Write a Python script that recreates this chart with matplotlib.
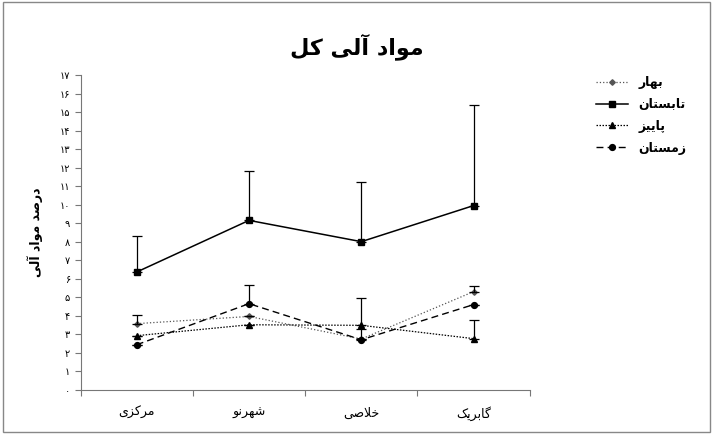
import matplotlib
matplotlib.use("Agg")
import matplotlib.pyplot as plt

# Persian letters: (isolated, final, initial, medial); two-form letters join right only
FORMS = {
    "ا": (0xFE8D, 0xFE8E), "آ": (0xFE81, 0xFE82), "د": (0xFEA9, 0xFEAA),
    "ر": (0xFEAD, 0xFEAE), "ز": (0xFEAF, 0xFEB0), "و": (0xFEED, 0xFEEE),
    "ب": (0xFE8F, 0xFE90, 0xFE91, 0xFE92), "ت": (0xFE95, 0xFE96, 0xFE97, 0xFE98),
    "خ": (0xFEA5, 0xFEA6, 0xFEA7, 0xFEA8), "س": (0xFEB1, 0xFEB2, 0xFEB3, 0xFEB4),
    "ش": (0xFEB5, 0xFEB6, 0xFEB7, 0xFEB8), "ص": (0xFEB9, 0xFEBA, 0xFEBB, 0xFEBC),
    "ل": (0xFEDD, 0xFEDE, 0xFEDF, 0xFEE0), "م": (0xFEE1, 0xFEE2, 0xFEE3, 0xFEE4),
    "ن": (0xFEE5, 0xFEE6, 0xFEE7, 0xFEE8), "ه": (0xFEE9, 0xFEEA, 0xFEEB, 0xFEEC),
    "پ": (0xFB56, 0xFB57, 0xFB58, 0xFB59), "ک": (0xFB8E, 0xFB8F, 0xFB90, 0xFB91),
    "گ": (0xFB92, 0xFB93, 0xFB94, 0xFB95), "ی": (0xFBFC, 0xFBFD, 0xFBFE, 0xFBFF),
}


def fa(s):
    chars = list(s)
    out = []
    i = 0
    while i < len(chars):
        c = chars[i]
        if c not in FORMS:
            out.append(c)
            i += 1
            continue
        prev = chars[i - 1] if i > 0 else None
        joined_prev = prev in FORMS and len(FORMS[prev]) == 4
        if c == "ل" and i + 1 < len(chars) and chars[i + 1] == "ا":
            out.append(chr(0xFEFC if joined_prev else 0xFEFB))
            i += 2
            continue
        nxt = chars[i + 1] if i + 1 < len(chars) else None
        f = FORMS[c]
        joins_next = len(f) == 4 and nxt in FORMS
        if joined_prev and joins_next:
            g = f[3]
        elif joined_prev:
            g = f[1]
        elif joins_next:
            g = f[2]
        else:
            g = f[0]
        out.append(chr(g))
        i += 1
    return "".join(out)[::-1]


def fa_num(n):
    return "".join(chr(0x06F0 + int(d)) for d in str(n))


sites = ["مرکزی", "شهرنو", "خلاصی", "گابریک"]
seasons = ["بهار", "تابستان", "پاییز", "زمستان"]
bahar = [3.57, 3.96, 2.74, 5.3]
tabestan = [6.36, 9.15, 8.0, 9.95]
paeez = [2.92, 3.51, 3.48, 2.76]
zemestan = [2.43, 4.65, 2.7, 4.6]
# upper error (length above mean); 0 = no bar drawn
bahar_err = [0.45, 0.0, 0.0, 0.28]
tabestan_err = [1.94, 2.65, 3.2, 5.45]
paeez_err = [0.0, 0.0, 1.49, 0.99]
zemestan_err = [0.0, 1.01, 0.58, 0.0]

styles = [
    dict(ls=":", marker="D", ms=2.8, color="#555555", lw=0.9),
    dict(ls="-", marker="s", ms=4.5, color="black", lw=1.1),
    dict(ls=(0, (1.2, 1.2)), marker="^", ms=4.2, color="black", lw=0.9),
    dict(ls=(0, (5, 3)), marker="o", ms=4.2, color="black", lw=1.0),
]

fig = plt.figure(figsize=(7.13, 4.34), dpi=100)
ax = fig.add_axes([0.113, 0.102, 0.63, 0.725])
x = list(range(len(sites)))
for name, vals, err, st in zip(seasons, [bahar, tabestan, paeez, zemestan],
                               [bahar_err, tabestan_err, paeez_err, zemestan_err], styles):
    ax.plot(x, vals, label=fa(name), **st)
    ax.errorbar(x, vals, yerr=[[0] * 4, err], fmt="none", ecolor="black",
                elinewidth=0.9, capsize=3.5, capthick=0.9)

ax.set_xlim(-0.5, 3.5)
ax.set_ylim(0, 17)
ax.set_yticks(range(18))
ax.set_yticklabels([fa_num(v) for v in range(18)], fontsize=7, family="DejaVu Sans")
ax.set_xticks([-0.5, 0.5, 1.5, 2.5, 3.5], minor=False)
ax.set_xticklabels([])
ax.set_xticks(x, minor=True)
ax.set_xticklabels([fa(s) for s in sites], minor=True, fontsize=9)
ax.tick_params(axis="x", which="minor", length=0, pad=12)
ax.tick_params(axis="both", which="major", length=4, color="#777777")
for sp in ["top", "right"]:
    ax.spines[sp].set_visible(False)
for sp in ["left", "bottom"]:
    ax.spines[sp].set_color("#777777")
ax.set_ylabel(fa("درصد مواد آلی"), fontsize=9, fontweight="bold", labelpad=12)
fig.text(0.5, 0.875, fa("مواد آلی کل"), ha="center", fontsize=16, fontweight="bold")
fig.legend(loc="upper left", bbox_to_anchor=(0.82, 0.85), frameon=False,
           markerfirst=True, handlelength=2.6, labelspacing=0.7,
           prop={"weight": "bold", "size": 9})
fig.patches.append(plt.Rectangle((0.004, 0.004), 0.992, 0.992, transform=fig.transFigure,
                                 fill=False, ec="#888888", lw=1))
fig.savefig("out.png", dpi=100)
